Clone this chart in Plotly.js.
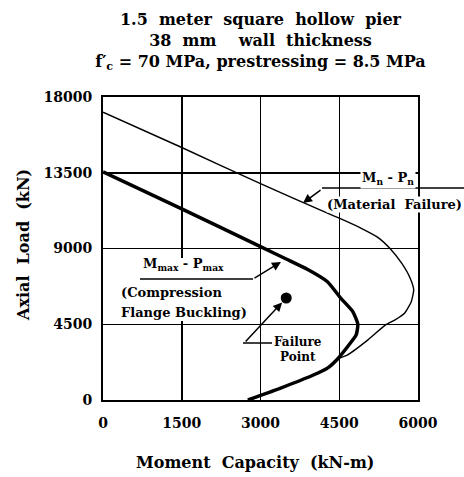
<!DOCTYPE html>
<html>
<head>
<meta charset="utf-8">
<script src="https://cdn.plot.ly/plotly-3.0.1.min.js"></script>
<style>html,body{margin:0;padding:0;background:#fff;}</style>
</head>
<body>
<div id="chart" style="width:464px;height:477px;"></div>
<script>
// Mn - Pn interaction curve (material failure)
const Mn = [0, 1500, 3000, 4275, 4500, 4919, 5241, 5467, 5692, 5853, 5918, 5872, 5743, 5563, 5382, 5047, 4661, 4468, 4275, 4006, 3371, 2760];
const Pn = [17100, 15000, 12850, 11100, 10800, 10200, 9650, 9000, 8112, 7223, 6550, 5842, 5151, 4757, 4460, 3572, 2683, 2440, 1894, 1485, 693, 0];
// Mmax - Pmax curve (compression flange buckling)
const Mmax = [0, 1500, 3000, 3500, 3900, 4275, 4532, 4758, 4854, 4822, 4661, 4468, 4275, 4006, 3371, 2760];
const Pmax = [13550, 11350, 9110, 8360, 7750, 7026, 6039, 5250, 4500, 3868, 3177, 2440, 1894, 1485, 693, 0];
// failure point
const failM = [3490];
const failP = [6060];
// ticks
const xTicks = [0, 1500, 3000, 4500, 6000];
const yTicks = [0, 4500, 9000, 13500, 18000];

const FF = 'DejaVu Serif';
const sp = ' \u00a0';

const traces = [
  {x: Mn, y: Pn, mode: 'lines', line: {color: '#000', width: 1.4, shape: 'spline', smoothing: 0.5}, hoverinfo: 'skip', showlegend: false},
  {x: Mmax, y: Pmax, mode: 'lines', line: {color: '#000', width: 3.5, shape: 'spline', smoothing: 0.5}, hoverinfo: 'skip', showlegend: false},
  {x: failM, y: failP, mode: 'markers', marker: {color: '#000', size: 11}, hoverinfo: 'skip', showlegend: false}
];

function px2x(p){ return (p - 103) / 315; }
function px2y(p){ return (400 - p) / 303; }

const annFont = {family: FF, size: 13, color: '#000', weight: 'bold'};
const smallFont = {family: FF, size: 12, color: '#000', weight: 'bold'};
function label(px, py, text, extra){
  return Object.assign({xref: 'paper', yref: 'paper', x: px2x(px), y: px2y(py), text: text,
    showarrow: false, font: annFont, xanchor: 'center', yanchor: 'middle'}, extra || {});
}
const annotations = [
  label(388, 178, 'M<sub>n</sub> - P<sub>n</sub>', {bgcolor: '#fff', borderpad: 1}),
  label(394, 204, '(Material' + sp + 'Failure)', {bgcolor: '#fff', borderpad: 0}),
  label(183, 264, 'M<sub>max</sub> - P<sub>max</sub>'),
  label(119, 292, '(Compression', {xanchor: 'left'}),
  label(119, 312, 'Flange Buckling)', {xanchor: 'left'}),
  label(298, 342, 'Failure', {font: smallFont}),
  label(298, 357, 'Point', {font: smallFont}),
  // leader arrows
  {xref: 'x', yref: 'y', x: 3810, y: 11700, ax: 19, ay: -14, text: '', showarrow: true, arrowhead: 2, arrowsize: 1.2, arrowwidth: 1.5, arrowcolor: '#000'},
  {xref: 'x', yref: 'y', x: 3390, y: 8200, ax: -28, ay: 17, text: '', showarrow: true, arrowhead: 2, arrowsize: 1.2, arrowwidth: 1.5, arrowcolor: '#000'},
  {xref: 'x', yref: 'y', x: failM[0], y: failP[0], ax: -42, ay: 45, text: '', showarrow: true, arrowhead: 2, arrowsize: 1.2, arrowwidth: 1.5, arrowcolor: '#000', standoff: 6},
  // axis titles
  label(255, 462, 'Moment' + sp + 'Capacity' + sp + '(kN-m)', {font: {family: FF, size: 16, color: '#000', weight: 'bold'}}),
  label(23, 245, 'Axial' + sp + 'Load' + sp + '(kN)', {textangle: -90, font: {family: FF, size: 16, color: '#000', weight: 'bold'}})
];

const shapes = [
  // white backing behind the buckling label block (hides grid line there)
  {type: 'rect', xref: 'paper', yref: 'paper', x0: px2x(117), x1: px2x(246), y0: px2y(321), y1: px2y(258), fillcolor: '#fff', line: {width: 0}},
  {type: 'line', xref: 'paper', yref: 'paper', x0: px2x(322), x1: px2x(464), y0: px2y(188), y1: px2y(188), line: {color: '#000', width: 1.5}},
  {type: 'line', xref: 'paper', yref: 'paper', x0: px2x(140), x1: px2x(253), y0: px2y(279), y1: px2y(279), line: {color: '#000', width: 1.5}},
  {type: 'line', xref: 'paper', yref: 'paper', x0: px2x(243), x1: px2x(272), y0: px2y(343), y1: px2y(343), line: {color: '#000', width: 1.5}}
];

const axisCommon = {
  showgrid: true, gridcolor: '#000', gridwidth: 1.5,
  showline: true, mirror: true, linecolor: '#000', linewidth: 2,
  zeroline: false, ticks: 'outside', tickcolor: 'rgba(0,0,0,0)',
  tickfont: {family: FF, size: 14, color: '#000', weight: 'bold'},
  fixedrange: true
};

const layout = {
  width: 464, height: 477,
  margin: {l: 103, r: 46, t: 97, b: 77},
  paper_bgcolor: '#fff', plot_bgcolor: '#fff',
  title: {
    text: '1.5' + sp + 'meter' + sp + 'square' + sp + 'hollow' + sp + 'pier<br>38' + sp + 'mm' + sp + ' \u00a0wall' + sp + 'thickness<br>f′<sub>c</sub> = 70 MPa, prestressing = 8.5 MPa',
    font: {family: FF, size: 16, color: '#000', weight: 'bold'},
    x: 0.5, xref: 'paper', xanchor: 'center',
    y: 1 - 25 / 477, yref: 'container', yanchor: 'top'
  },
  xaxis: Object.assign({}, axisCommon, {range: [0, 6000], tickvals: xTicks, ticktext: xTicks.map(String), ticklen: 9}),
  yaxis: Object.assign({}, axisCommon, {range: [0, 18000], tickvals: yTicks, ticktext: yTicks.map(String), ticklen: 6}),
  annotations: annotations,
  shapes: shapes,
  showlegend: false
};

Plotly.newPlot('chart', traces, layout, {displayModeBar: false, staticPlot: true});
</script>
</body>
</html>
